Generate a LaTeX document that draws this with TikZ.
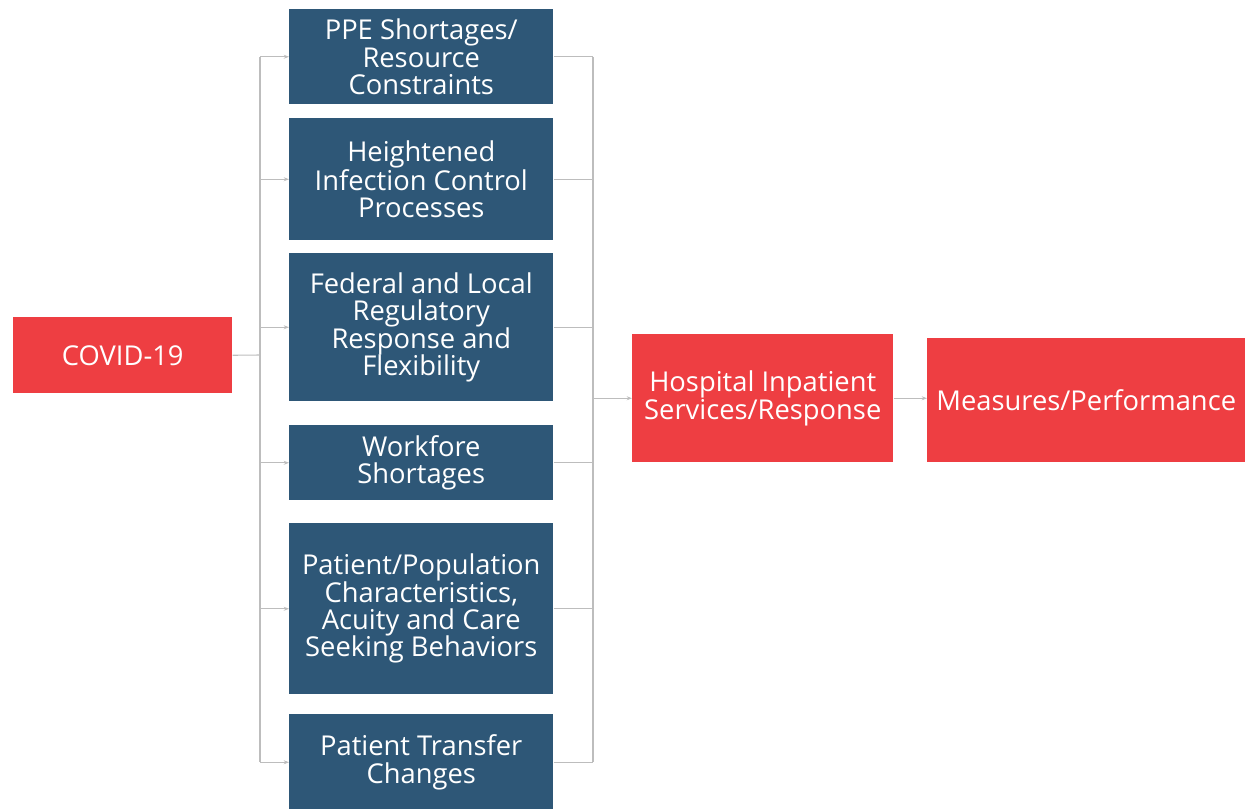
\documentclass[tikz,border=0pt]{standalone}
\usepackage{fontspec}
\setmainfont{Open Sans}
\usetikzlibrary{arrows.meta}
\definecolor{boxblue}{HTML}{2E5777}
\definecolor{boxred}{HTML}{EE3E42}
\definecolor{linegray}{HTML}{BDBDBD}
\tikzset{
  base/.style={rectangle, inner sep=0pt, text=white, align=center,
    font=\fontsize{20.5}{20.5}\selectfont, anchor=north west},
  bluebox/.style={base, fill=boxblue},
  redbox/.style={base, fill=boxred},
  conn/.style={draw=linegray, line width=0.8pt},
  arr/.style={conn, -{Stealth[length=4pt,width=3pt]}}
}
\begin{document}
\begin{tikzpicture}[x=0.75pt,y=-0.75pt]
\useasboundingbox (0,0) rectangle (1245,809);
% nodes
\node[redbox, minimum width=219*0.75pt, minimum height=76*0.75pt] (covid) at (13,317) {COVID-19};
\node[bluebox, minimum width=264*0.75pt, minimum height=95*0.75pt] (ppe) at (289,9) {PPE Shortages/\\Resource\\Constraints};
\node[bluebox, minimum width=264*0.75pt, minimum height=122*0.75pt] (hic) at (289,118) {Heightened\\Infection Control\\Processes};
\node[bluebox, minimum width=264*0.75pt, minimum height=148*0.75pt] (fed) at (289,253) {Federal and Local\\Regulatory\\Response and\\Flexibility};
\node[bluebox, minimum width=264*0.75pt, minimum height=75*0.75pt] (work) at (289,425) {Workfore\\Shortages};
\node[bluebox, minimum width=264*0.75pt, minimum height=171*0.75pt] (pop) at (289,523) {Patient/Population\\Characteristics,\\Acuity and Care\\Seeking Behaviors};
\node[bluebox, minimum width=264*0.75pt, minimum height=96*0.75pt] (trans) at (289,714) {Patient Transfer\\Changes};
\node[redbox, minimum width=261*0.75pt, minimum height=128*0.75pt] (hosp) at (632,334) {Hospital Inpatient\\Services/Response};
\node[redbox, minimum width=318*0.75pt, minimum height=124*0.75pt] (meas) at (927,338) {Measures/Performance};
% bus coordinates
\coordinate (lb) at (260,355);
\coordinate (rb) at (593,398);
% left bus
\draw[conn] (covid.east) -- (lb);
\draw[conn] (lb |- ppe.west) -- (lb |- trans.west);
\foreach \n in {ppe,hic,fed,work,pop,trans}
  \draw[arr] (lb |- \n.west) -- (\n.west);
% right bus
\draw[conn] (rb |- ppe.east) -- (rb |- trans.east);
\foreach \n in {ppe,hic,fed,work,pop,trans}
  \draw[conn] (\n.east) -- (rb |- \n.east);
\draw[arr] (rb |- hosp.west) -- (hosp.west);
\draw[arr] (hosp.east) -- (hosp.east -| meas.west);
\end{tikzpicture}
\end{document}
